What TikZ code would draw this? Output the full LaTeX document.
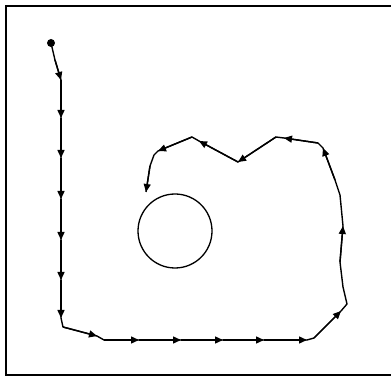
\documentclass[tikz,border=0pt]{standalone}
\usetikzlibrary{arrows.meta}
\begin{document}
\begin{tikzpicture}[x=1pt,y=-1pt,
  track/.style={line width=1.4pt,line join=round},
  heading/.style={-{Triangle[length=8pt,width=7pt]},line width=1.4pt},
  startdot/.style={circle,fill=black,inner sep=0pt,minimum size=8pt},
  obstacle/.style={circle,draw=black,line width=1.3pt,minimum size=74pt,inner sep=0pt}]
  \useasboundingbox (0,0) rectangle (391,379);
  \clip (0,0) rectangle (391,379);
  % work area frame, its right side is cut off
  \draw[line width=1.8pt] (400,6) -- (6,6) -- (6,375) -- (400,375);
  \node[obstacle] (obstacle) at (175,231) {};
  \node[startdot] (start) at (51,43) {};
  % waypoints of the robot track
  \coordinate (a1) at (55,60);
  \foreach \i/\y in {1/80,2/118,3/158,4/199,5/240,6/280,7/318}
    \coordinate (v\i) at (61,\y);
  \coordinate (b1) at (63,327);
  \coordinate (h1) at (97,336);
  \coordinate (b2) at (104,340);
  \foreach \i/\x in {2/139,3/181,4/223,5/264,6/307}
    \coordinate (h\i) at (\x,340);
  \coordinate (b3) at (314,338);
  \coordinate (d1) at (341,311);
  \coordinate (b4) at (347,304);
  \coordinate (b5) at (343,287);
  \coordinate (b6) at (340,262);
  \coordinate (r1) at (343,226);
  \coordinate (b7) at (340,195);
  \coordinate (b8) at (335,180);
  \coordinate (r2) at (323,148);
  \coordinate (b9) at (318,143);
  \coordinate (t1) at (284,138);
  \coordinate (b10) at (276,137);
  \coordinate (t2) at (238,162);
  \coordinate (t3) at (199,141);
  \coordinate (b11) at (192,137);
  \coordinate (t4) at (158,151);
  \coordinate (b12) at (154,155);
  \coordinate (b13) at (150,166);
  \coordinate (goal) at (146,192);
  \draw[track] (start.center) -- (a1) -- (v1) -- (v7) -- (b1) -- (h1) -- (b2)
    -- (h6) -- (b3) -- (d1) -- (b4) -- (b5) -- (b6) -- (r1) -- (b7) -- (b8)
    -- (r2) -- (b9) -- (t1) -- (b10) -- (t2) -- (t3) -- (b11) -- (t4)
    -- (b12) -- (b13) -- (goal);
  % heading markers along the track
  \foreach \a/\b in {a1/v1,v1/v2,v2/v3,v3/v4,v4/v5,v5/v6,v6/v7,b1/h1,
      b2/h2,h2/h3,h3/h4,h4/h5,h5/h6,b3/d1,b6/r1,b8/r2,b9/t1,b10/t2,t2/t3,
      b11/t4,b13/goal}
    \draw[heading] (\a) -- (\b);
\end{tikzpicture}
\end{document}
